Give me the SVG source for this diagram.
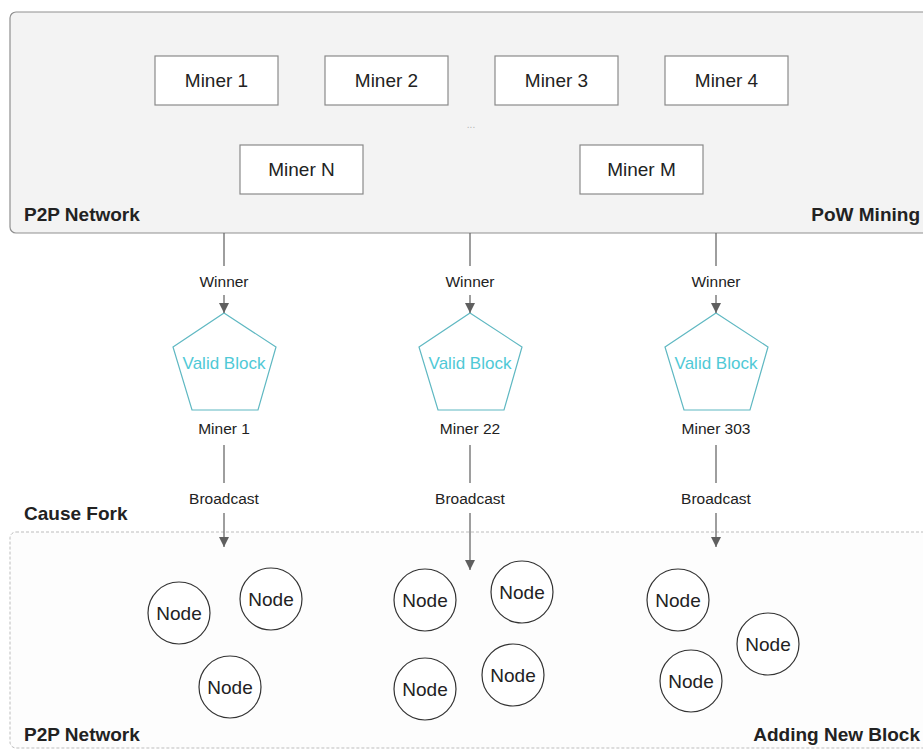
<svg xmlns="http://www.w3.org/2000/svg" width="923" height="751" viewBox="0 0 923 751">
<defs>
<marker id="arr" viewBox="0 0 10 10" refX="10" refY="5" markerWidth="10" markerHeight="10" markerUnits="userSpaceOnUse" orient="auto">
<path d="M0,0 L10,5 L0,10 z" fill="#5f5f5f"/>
</marker>
<style>
text{font-family:"Liberation Sans",Arial,sans-serif;fill:#222}
.box{fill:#fff;stroke:#8a8a8a;stroke-width:1.2}
.mt{font-size:19px;text-anchor:middle}
.lbl{font-size:15.5px;text-anchor:middle}
.title{font-size:19px;font-weight:bold}
.pent{fill:#fff;stroke:#5fb8c2;stroke-width:1.2}
.vb{font-size:17px;text-anchor:middle;fill:#4fc9d6}
.node{fill:#fff;stroke:#333;stroke-width:1.2}
.edge{stroke:#6a6a6a;stroke-width:1.3;fill:none}
</style>
</defs>
<rect width="923" height="751" fill="#fff"/>
<g id="top-network">
<rect x="10" y="12" width="930" height="221" rx="6" fill="#f3f3f3" stroke="#8f8f8f" stroke-width="1.2"/>
<text class="title" x="24" y="221">P2P Network</text>
<text class="title" x="920" y="221" text-anchor="end">PoW Mining</text>
<text x="471" y="128" font-size="10" text-anchor="middle" style="fill:#b5b5b5">...</text>
</g>
<g id="bottom-network">
<rect x="10" y="532" width="930" height="216" rx="6" fill="#fdfdfd" stroke="#bdbdbd" stroke-width="1" stroke-dasharray="3,2"/>
<text class="title" x="24" y="520">Cause Fork</text>
<text class="title" x="24" y="741">P2P Network</text>
<text class="title" x="920" y="741" text-anchor="end">Adding New Block</text>
</g>
<g id="miner1"><rect class="box" x="155" y="56" width="123" height="49"/><text class="mt" x="216.5" y="87">Miner 1</text></g>
<g id="miner2"><rect class="box" x="325" y="56" width="123" height="49"/><text class="mt" x="386.5" y="87">Miner 2</text></g>
<g id="miner3"><rect class="box" x="495" y="56" width="123" height="49"/><text class="mt" x="556.5" y="87">Miner 3</text></g>
<g id="miner4"><rect class="box" x="665" y="56" width="123" height="49"/><text class="mt" x="726.5" y="87">Miner 4</text></g>
<g id="minerN"><rect class="box" x="240" y="145" width="123" height="49"/><text class="mt" x="301.5" y="176">Miner N</text></g>
<g id="minerM"><rect class="box" x="580" y="145" width="123" height="49"/><text class="mt" x="641.5" y="176">Miner M</text></g>
<g id="block1"><polygon class="pent" points="224,313 276,347 258,410 192,410 173,347"/><text class="vb" x="224" y="369">Valid Block</text><text class="lbl" x="224" y="434">Miner 1</text></g>
<g id="block2"><polygon class="pent" points="470,313 522,347 504,410 438,410 419,347"/><text class="vb" x="470" y="369">Valid Block</text><text class="lbl" x="470" y="434">Miner 22</text></g>
<g id="block3"><polygon class="pent" points="716,313 768,347 750,410 684,410 665,347"/><text class="vb" x="716" y="369">Valid Block</text><text class="lbl" x="716" y="434">Miner 303</text></g>
<g id="nodes">
<g id="n1"><circle class="node" cx="179" cy="613" r="31"/><text class="mt" x="179" y="620">Node</text></g>
<g id="n2"><circle class="node" cx="271" cy="599" r="31"/><text class="mt" x="271" y="606">Node</text></g>
<g id="n3"><circle class="node" cx="230" cy="687" r="31"/><text class="mt" x="230" y="694">Node</text></g>
<g id="n4"><circle class="node" cx="425" cy="600" r="31"/><text class="mt" x="425" y="607">Node</text></g>
<g id="n5"><circle class="node" cx="522" cy="592" r="31"/><text class="mt" x="522" y="599">Node</text></g>
<g id="n6"><circle class="node" cx="425" cy="689" r="31"/><text class="mt" x="425" y="696">Node</text></g>
<g id="n7"><circle class="node" cx="513" cy="675" r="31"/><text class="mt" x="513" y="682">Node</text></g>
<g id="n8"><circle class="node" cx="678" cy="600" r="31"/><text class="mt" x="678" y="607">Node</text></g>
<g id="n9"><circle class="node" cx="768" cy="644" r="31"/><text class="mt" x="768" y="651">Node</text></g>
<g id="n10"><circle class="node" cx="691" cy="681" r="31"/><text class="mt" x="691" y="688">Node</text></g>
</g>
<g id="connectors">
<line class="edge" x1="224" y1="233" x2="224" y2="266"/>
<text class="lbl" x="224" y="287">Winner</text>
<line class="edge" x1="224" y1="295" x2="224" y2="313" marker-end="url(#arr)"/>
<line class="edge" x1="470" y1="233" x2="470" y2="266"/>
<text class="lbl" x="470" y="287">Winner</text>
<line class="edge" x1="470" y1="295" x2="470" y2="313" marker-end="url(#arr)"/>
<line class="edge" x1="716" y1="233" x2="716" y2="266"/>
<text class="lbl" x="716" y="287">Winner</text>
<line class="edge" x1="716" y1="295" x2="716" y2="313" marker-end="url(#arr)"/>
<line class="edge" x1="224" y1="445" x2="224" y2="483"/>
<text class="lbl" x="224" y="504">Broadcast</text>
<line class="edge" x1="224" y1="513" x2="224" y2="547" marker-end="url(#arr)"/>
<line class="edge" x1="470" y1="445" x2="470" y2="483"/>
<text class="lbl" x="470" y="504">Broadcast</text>
<line class="edge" x1="470" y1="513" x2="470" y2="570" marker-end="url(#arr)"/>
<line class="edge" x1="716" y1="445" x2="716" y2="483"/>
<text class="lbl" x="716" y="504">Broadcast</text>
<line class="edge" x1="716" y1="513" x2="716" y2="547" marker-end="url(#arr)"/>
</g>
</svg>
